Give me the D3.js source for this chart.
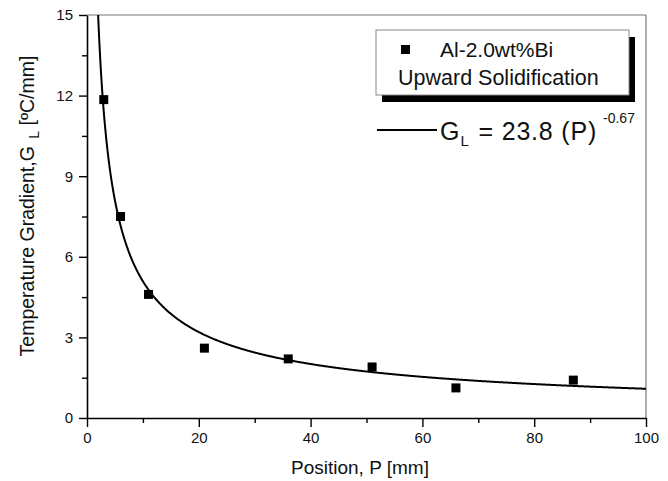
<!DOCTYPE html>
<html>
<head>
<meta charset="utf-8">
<script src="https://cdn.jsdelivr.net/npm/d3@7"></script>
<style>
  html, body { margin: 0; padding: 0; background: #fff; }
  svg { display: block; font-family: "Liberation Sans", Arial, sans-serif; }
</style>
</head>
<body>
<svg id="chart" width="668" height="481"></svg>
<script>
// ---- data ----
const positions = [3, 6, 11, 21, 36, 51, 66, 87];          // P [mm]
const gradients = [11.85, 7.5, 4.6, 2.6, 2.2, 1.9, 1.12, 1.41]; // G_L [ºC/mm]
const xTicks = [0, 20, 40, 60, 80, 100];
const yTicks = [0, 3, 6, 9, 12, 15];
const fitCoef = 23.8;      // G_L = 23.8 (P)^-0.67
const fitExp = -0.67;
const seriesLabel = "Al-2.0wt%Bi";
const seriesLabel2 = "Upward Solidification";

(function () {
const svg = d3.select("#chart");
const pL = 87, pR = 646, pT = 15, pB = 418;

const x = d3.scaleLinear().domain([0, 100]).range([pL, pR]);
const y = d3.scaleLinear().domain([0, 15]).range([pB, pT]);

// frame (top & right)
svg.append("line").attr("x1", pL).attr("x2", pR).attr("y1", pT).attr("y2", pT)
  .attr("stroke", "#777").attr("stroke-width", 1.2);
svg.append("line").attr("x1", pR).attr("x2", pR).attr("y1", pT).attr("y2", pB)
  .attr("stroke", "#777").attr("stroke-width", 1.2);

// minor ticks
const xMinor = d3.range(0, 101, 10).filter(v => !xTicks.includes(v));
const yMinor = d3.range(1.5, 15, 3);

svg.append("g").attr("transform", `translate(0,${pB})`)
  .call(d3.axisBottom(x).tickValues(xTicks).tickSize(9).tickPadding(5).tickSizeOuter(0));
svg.append("g").attr("transform", `translate(0,${pB})`)
  .call(d3.axisBottom(x).tickValues(xMinor).tickSize(5).tickFormat("").tickSizeOuter(0))
  .call(g => g.select(".domain").remove());

svg.append("g").attr("transform", `translate(${pL},0)`)
  .call(d3.axisLeft(y).tickValues(yTicks).tickSize(8).tickPadding(6).tickSizeOuter(0));
svg.append("g").attr("transform", `translate(${pL},0)`)
  .call(d3.axisLeft(y).tickValues(yMinor).tickSize(5).tickFormat("").tickSizeOuter(0))
  .call(g => g.select(".domain").remove());

svg.selectAll(".domain").attr("stroke", "#000").attr("stroke-width", 1.6);
svg.selectAll(".tick line").attr("stroke", "#000").attr("stroke-width", 1.4);
svg.selectAll(".tick text").attr("font-size", 15).attr("fill", "#111")
  .attr("font-family", "'Liberation Sans', Arial, sans-serif");

// fitted curve
const clipId = "plotclip";
svg.append("clipPath").attr("id", clipId).append("rect")
  .attr("x", pL).attr("y", pT).attr("width", pR - pL).attr("height", pB - pT);
const curveP = d3.range(1.9, 100.01, 0.1);
const line = d3.line().x(p => x(p)).y(p => y(fitCoef * Math.pow(p, fitExp)));
svg.append("path").datum(curveP).attr("d", line).attr("fill", "none")
  .attr("stroke", "#000").attr("stroke-width", 2).attr("clip-path", `url(#${clipId})`);

// points
const ms = 9;
svg.selectAll("rect.pt").data(positions.map((p, i) => [p, gradients[i]])).enter()
  .append("rect").attr("class", "pt")
  .attr("x", d => x(d[0]) - ms / 2).attr("y", d => y(d[1]) - ms / 2)
  .attr("width", ms).attr("height", ms).attr("fill", "#000");

// axis titles
svg.append("text").attr("x", 360).attr("y", 474).attr("text-anchor", "middle")
  .attr("font-size", 19).attr("fill", "#111").text("Position, P [mm]");

const yt = svg.append("text").attr("transform", "translate(34,206) rotate(-90)")
  .attr("text-anchor", "middle").attr("font-size", 19.5).attr("fill", "#111");
yt.append("tspan").text("Temperature Gradient,G ");
yt.append("tspan").attr("font-size", 14).attr("dy", 5).attr("dx", 2).text("L");
yt.append("tspan").attr("dy", -5).text("  [ºC/mm]");

// legend box with shadow
const lg = { x: 376, y: 30, w: 253, h: 65, off: 6 };
svg.append("rect").attr("x", lg.x + lg.off).attr("y", lg.y + lg.off + 1)
  .attr("width", lg.w).attr("height", lg.h).attr("fill", "#000");
svg.append("rect").attr("x", lg.x).attr("y", lg.y).attr("width", lg.w).attr("height", lg.h)
  .attr("fill", "#fff").attr("stroke", "#888").attr("stroke-width", 1);
svg.append("rect").attr("x", 401).attr("y", 45).attr("width", ms).attr("height", ms).attr("fill", "#000");
svg.append("text").attr("x", 440).attr("y", 57).attr("font-size", 21).attr("fill", "#111").text(seriesLabel);
svg.append("text").attr("x", 398).attr("y", 85).attr("font-size", 21.5).attr("fill", "#111").text(seriesLabel2);

// fit legend
svg.append("line").attr("x1", 377).attr("x2", 437).attr("y1", 130).attr("y2", 130)
  .attr("stroke", "#000").attr("stroke-width", 2);
const ft = svg.append("text").attr("x", 440).attr("y", 140).attr("font-size", 25).attr("fill", "#111");
ft.append("tspan").text("G");
ft.append("tspan").attr("font-size", 15).attr("dy", 6).attr("dx", 1).text("L");
ft.append("tspan").attr("dy", -6).attr("dx", 2).style("letter-spacing", "0.8px").text(` = ${fitCoef} (P)`);
ft.append("tspan").attr("font-size", 14).attr("dy", -17).attr("dx", 6).text(`${fitExp}`);
})();
</script>
</body>
</html>
